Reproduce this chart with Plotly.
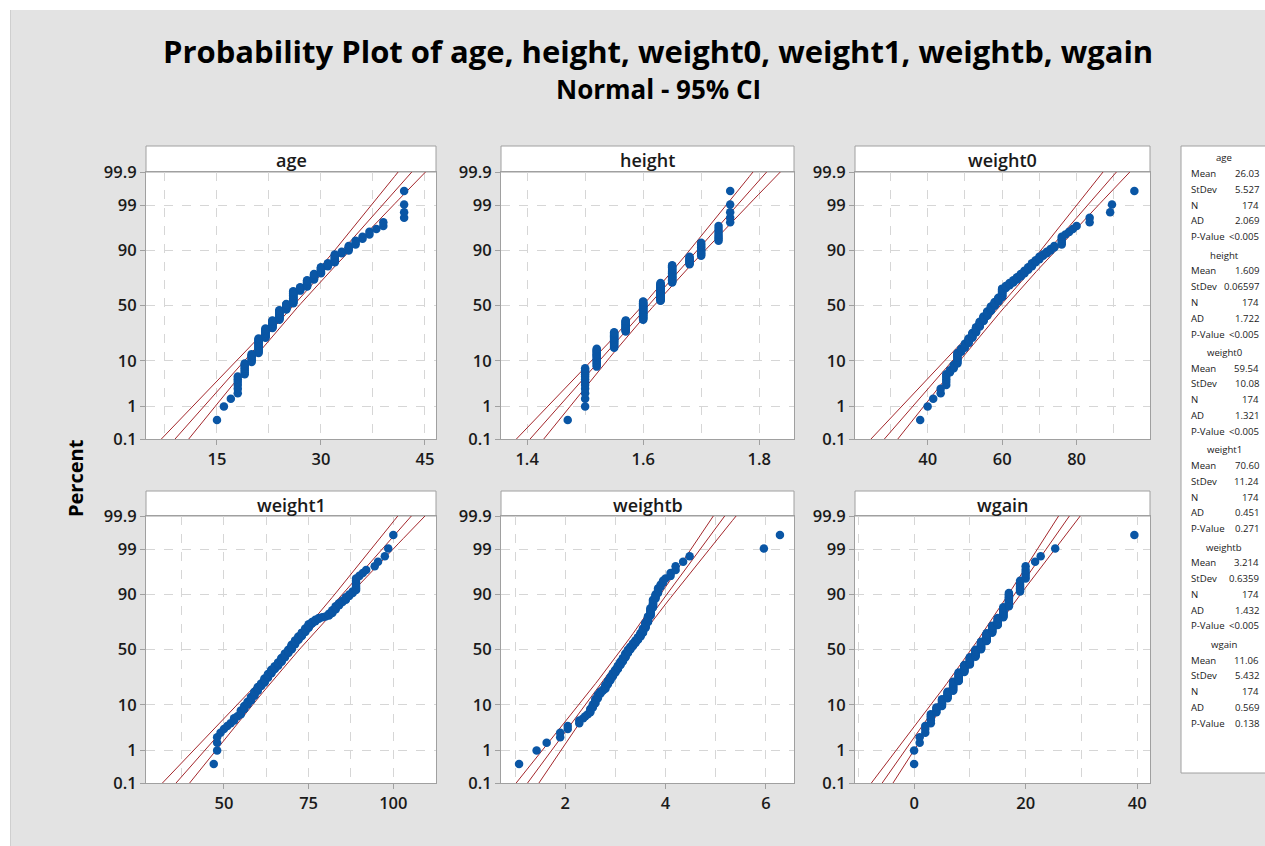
import plotly.graph_objects as go
from statistics import NormalDist

ND = NormalDist()
W, H = 1265, 846

# ---------------- data (value / frequency tables) ----------------
age_values = [15, 16, 17, 18, 19, 20, 21, 22, 23, 24, 25, 26, 27, 28, 29, 30, 31, 32, 33, 34, 35, 36, 37, 38, 39, 42]
age_counts = [1, 1, 1, 6, 7, 7, 16, 13, 12, 16, 10, 20, 6, 10, 8, 8, 4, 8, 2, 4, 3, 2, 2, 1, 2, 4]

height_values = [1.47, 1.50, 1.52, 1.55, 1.57, 1.60, 1.63, 1.65, 1.68, 1.70, 1.73, 1.75]
height_counts = [1, 12, 15, 19, 17, 30, 28, 22, 8, 10, 7, 5]

weight0_values = [38, 40, 41.5, 43.5, 45, 46, 47, 48, 49, 50, 51, 52, 53, 54, 55, 56, 57, 58, 59, 60,
                  61, 62, 63, 64, 65, 66, 67, 68, 69, 70, 71, 72, 73, 74, 76, 77, 78, 79, 80, 83.5,
                  89, 89.5, 95.5]
weight0_counts = [1, 1, 1, 2, 5, 2, 3, 9, 4, 5, 6, 7, 8, 8, 8, 8, 8, 7, 7, 14,
                  4, 4, 4, 4, 4, 4, 4, 4, 3, 3, 2, 2, 2, 2, 5, 1, 1, 1, 1, 2,
                  1, 1, 1]

weight1_values = [47, 48, 49, 50, 51, 52, 53, 54, 55, 56, 57, 58, 59, 60, 61, 62, 63, 64, 65, 66,
                  67, 68, 69, 70, 71, 72, 73, 74, 75, 76, 77, 78, 79, 80, 81, 82, 83, 84, 85, 86,
                  87, 88, 89, 90, 91, 92, 94.5, 95.5, 97.5, 98.5, 100]
weight1_counts = [1, 3, 1, 1, 1, 1, 2, 1, 3, 3, 3, 4, 5, 5, 4, 6, 6, 6, 5, 6,
                  7, 7, 6, 8, 7, 6, 6, 6, 6, 3, 3, 2, 1, 1, 3, 4, 4, 3, 2, 3,
                  2, 2, 7, 1, 1, 1, 1, 1, 1, 1, 1]

weightb_values = [1.08, 1.43, 1.63, 1.90, 2.05, 2.28, 2.36, 2.40, 2.45, 2.50, 2.55, 2.60, 2.65, 2.70,
                  2.75, 2.80, 2.85, 2.90, 2.95, 3.00, 3.05, 3.10, 3.15, 3.20, 3.25, 3.30, 3.35, 3.40,
                  3.45, 3.50, 3.55, 3.60, 3.65, 3.70, 3.75, 3.80, 3.85, 3.90, 3.95, 4.00, 4.10, 4.20,
                  4.35, 4.48, 5.96, 6.28]
weightb_counts = [1, 1, 1, 2, 2, 2, 1, 1, 1, 3, 3, 4, 4, 3,
                  2, 5, 5, 5, 5, 5, 6, 6, 6, 7, 6, 5, 5, 5,
                  5, 6, 7, 8, 8, 9, 8, 4, 4, 2, 2, 1, 2, 2,
                  1, 1, 1, 1]

wgain_values = [0, 1, 2, 3, 4, 5, 6, 7, 8, 9, 10, 11, 12, 13, 14, 15, 16, 17, 19, 20, 21.7, 22.7, 25.3, 39.5]
wgain_counts = [2, 2, 3, 5, 4, 6, 7, 11, 12, 11, 12, 12, 13, 13, 11, 10, 12, 12, 7, 5, 1, 1, 1, 1]

var_names = ["age", "height", "weight0", "weight1", "weightb", "wgain"]
mean_vals = [26.03, 1.609, 59.54, 70.60, 3.214, 11.06]
stdev_vals = [5.527, 0.06597, 10.08, 11.24, 0.6359, 5.432]
n_vals = [174, 174, 174, 174, 174, 174]
mean_txt = ["26.03", "1.609", "59.54", "70.60", "3.214", "11.06"]
stdev_txt = ["5.527", "0.06597", "10.08", "11.24", "0.6359", "5.432"]
ad_txt = ["2.069", "1.722", "1.321", "0.451", "1.432", "0.569"]
p_txt = ["<0.005", "<0.005", "<0.005", "0.271", "<0.005", "0.138"]

pct_ticks = [0.1, 1, 10, 50, 90, 99, 99.9]
pct_labels = ["0.1", "1", "10", "50", "90", "99", "99.9"]

x_major = [[15, 30, 45], [1.4, 1.6, 1.8], [40, 60, 80], [50, 75, 100], [2, 4, 6], [0, 20, 40]]
x_major_txt = [["15", "30", "45"], ["1.4", "1.6", "1.8"], ["40", "60", "80"],
               ["50", "75", "100"], ["2", "4", "6"], ["0", "20", "40"]]
x_minor = [[7.5, 22.5, 37.5], [1.5, 1.7], [30, 50, 70, 90], [37.5, 62.5, 87.5, 112.5], [1, 3, 5], [-10, 10, 30]]

all_values = [age_values, height_values, weight0_values, weight1_values, weightb_values, wgain_values]
all_counts = [age_counts, height_counts, weight0_counts, weight1_counts, weightb_counts, wgain_counts]

# ---------------- layout geometry (pixels) ----------------
x_ranges = [[4.76, 46.6], [1.355, 1.86], [20.5, 99.7], [27.0, 112.6], [0.72, 6.56], [-10.6, 42.3]]
cols_px = [(146, 436), (501, 794), (855, 1150)]
rows_px = [(172, 439), (516, 783)]
strips_px = [(146, 172), (491, 516)]

FONT = "Open Sans"
TXT = "#1a1a1a"
FRAME = "#a0a0a0"
GRID = "#d6d6d6"
BLUE = "#0a56a5"
RED = "#a3262b"


def xd(px):
    return px / W


def yd(py):
    return 1 - py / H


zmax = ND.inv_cdf(0.999)
n_line = 60
z_line = [-zmax + 2 * zmax * k / (n_line - 1) for k in range(n_line)]
z_ci = ND.inv_cdf(0.975)

fig = go.Figure()
layout = {}
shapes = []
annotations = []

for i in range(6):
    r, c = divmod(i, 3)
    s = "" if i == 0 else str(i + 1)
    xs = []
    for v, cnt in zip(all_values[i], all_counts[i]):
        xs.extend([v] * cnt)
    xs.sort()
    n = len(xs)
    ys = [ND.inv_cdf((k + 1 - 0.3) / (n + 0.4)) for k in range(n)]

    mu, sd, nn = mean_vals[i], stdev_vals[i], n_vals[i]
    fit = [mu + sd * z for z in z_line]
    half = [z_ci * sd * (1.0 / nn + z * z / (2.0 * nn)) ** 0.5 for z in z_line]
    lo = [f - h for f, h in zip(fit, half)]
    hi = [f + h for f, h in zip(fit, half)]
    for line_x in (hi, fit, lo):
        fig.add_trace(go.Scatter(x=line_x, y=z_line, mode="lines", xaxis="x" + s, yaxis="y" + s,
                                 line=dict(color=RED, width=1), hoverinfo="skip", showlegend=False))
    fig.add_trace(go.Scatter(x=xs, y=ys, mode="markers", xaxis="x" + s, yaxis="y" + s,
                             marker=dict(color=BLUE, size=8.5, line=dict(width=0)),
                             showlegend=False, cliponaxis=False))

    c0, c1 = cols_px[c]
    r0, r1 = rows_px[r]
    tickfont = dict(family=FONT, size=16.5, color=TXT, weight=600)
    layout["xaxis" + s] = dict(
        domain=[xd(c0), xd(c1)], anchor="y" + s, range=x_ranges[i], automargin=False,
        tickmode="array", tickvals=x_major[i], ticktext=x_major_txt[i],
        showgrid=True, gridcolor=GRID, griddash="dash", gridwidth=1,
        minor=dict(tickmode="array", tickvals=x_minor[i], showgrid=True, gridcolor=GRID,
                   griddash="dash", gridwidth=1, ticks=""),
        showline=True, linecolor=FRAME, linewidth=1, mirror=True,
        ticks="outside", ticklen=5, tickcolor=FRAME, zeroline=False, tickfont=tickfont,
    )
    layout["yaxis" + s] = dict(
        domain=[yd(r1), yd(r0)], anchor="x" + s, range=[-zmax, zmax], automargin=False,
        tickmode="array", tickvals=[ND.inv_cdf(p / 100) for p in pct_ticks], ticktext=pct_labels,
        showgrid=True, gridcolor=GRID, griddash="dash", gridwidth=1,
        showline=True, linecolor=FRAME, linewidth=1, mirror=True,
        ticks="outside", ticklen=5, tickcolor=FRAME, zeroline=False, tickfont=tickfont,
    )
    # strip header
    s0, s1 = strips_px[r]
    shapes.append(dict(type="rect", xref="paper", yref="paper", x0=xd(c0), x1=xd(c1),
                       y0=yd(s1), y1=yd(s0), fillcolor="white", line=dict(color=FRAME, width=1),
                       layer="below"))
    annotations.append(dict(text=var_names[i], xref="paper", yref="paper", x=xd((c0 + c1) / 2),
                            y=yd((s0 + s1) / 2 + 1), xanchor="center", yanchor="middle", showarrow=False,
                            font=dict(family=FONT, size=18, color=TXT, weight=600)))

# white outer margin strips (top and left)
shapes.append(dict(type="rect", xref="paper", yref="paper", x0=0, x1=1, y0=yd(10), y1=1,
                   fillcolor="white", line=dict(width=0), layer="below"))
shapes.append(dict(type="rect", xref="paper", yref="paper", x0=0, x1=xd(10), y0=0, y1=1,
                   fillcolor="white", line=dict(width=0), layer="below"))
shapes.append(dict(type="line", xref="paper", yref="paper", x0=xd(10.5), x1=xd(10.5), y0=0, y1=yd(10),
                   line=dict(color="#cfcfcf", width=1), layer="below"))

# statistics table
shapes.append(dict(type="rect", xref="paper", yref="paper", x0=xd(1181), x1=xd(1266),
                   y0=yd(773), y1=yd(146), fillcolor="white", line=dict(color=FRAME, width=1),
                   layer="below"))
tfont = dict(family=FONT, size=9.6, color=TXT)
row_labels = ["Mean", "StDev", "N", "AD", "P-Value"]
for k in range(6):
    hy = 158 + 97.3 * k
    annotations.append(dict(text=var_names[k], xref="paper", yref="paper", x=xd(1224), y=yd(hy),
                            xanchor="center", yanchor="middle", showarrow=False, font=tfont))
    vals = [mean_txt[k], stdev_txt[k], str(n_vals[k]), ad_txt[k], p_txt[k]]
    for j in range(5):
        ry = hy + 15.5 + 15.8 * j
        annotations.append(dict(text=row_labels[j], xref="paper", yref="paper", x=xd(1189), y=yd(ry),
                                xanchor="left", yanchor="middle", showarrow=False, font=tfont))
        annotations.append(dict(text=vals[j], xref="paper", yref="paper", x=xd(1261), y=yd(ry),
                                xanchor="right", yanchor="middle", showarrow=False, font=tfont))

# titles
annotations.append(dict(text="Probability Plot of age, height, weight0, weight1, weightb, wgain",
                        xref="paper", yref="paper", x=xd(658), y=yd(51), xanchor="center", yanchor="middle",
                        showarrow=False, font=dict(family=FONT, size=31, color="black", weight=700)))
annotations.append(dict(text="Normal - 95% CI", xref="paper", yref="paper", x=xd(658), y=yd(89),
                        xanchor="center", yanchor="middle", showarrow=False,
                        font=dict(family=FONT, size=26, color="black", weight=700)))
annotations.append(dict(text="Percent", xref="paper", yref="paper", x=xd(75), y=yd(478), textangle=-90,
                        xanchor="center", yanchor="middle", showarrow=False,
                        font=dict(family=FONT, size=20, color="black", weight=700)))

fig.update_layout(
    width=W, height=H, margin=dict(l=0, r=0, t=0, b=0, autoexpand=False),
    paper_bgcolor="#e3e3e3", plot_bgcolor="white",
    shapes=shapes, annotations=annotations, showlegend=False,
    **layout,
)

fig.write_html("out.html", config={"displayModeBar": False},
               post_script="document.body.style.margin='0';document.body.style.overflow='hidden';")
